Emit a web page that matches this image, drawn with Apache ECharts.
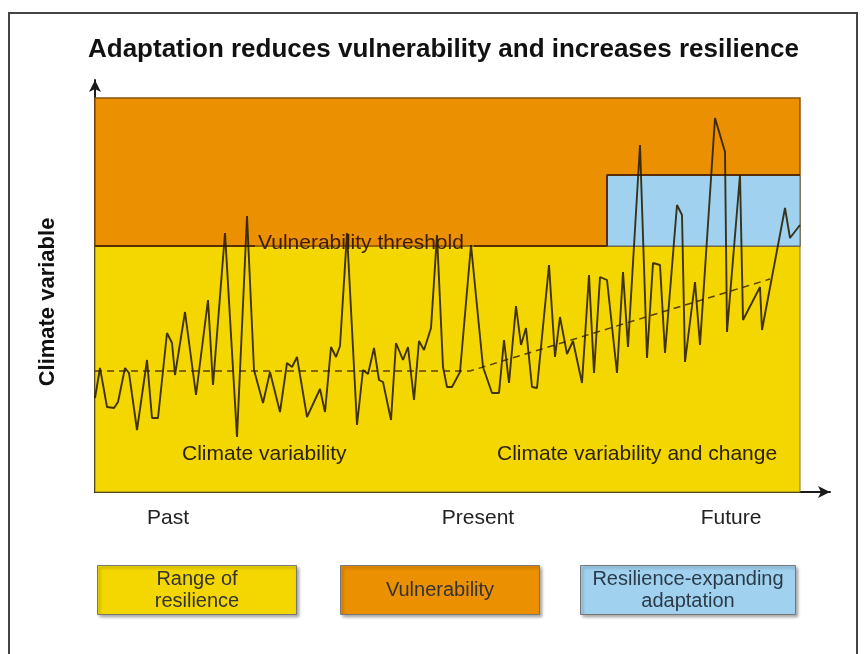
<!DOCTYPE html>
<html>
<head>
<meta charset="utf-8">
<script src="https://cdn.jsdelivr.net/npm/echarts@6/dist/echarts.min.js"></script>
<style>
  html, body { margin: 0; padding: 0; background: #fff; }
  #main { width: 864px; height: 654px; }
</style>
</head>
<body>
<div id="main"></div>
<script>
// climate series (time units along x, climate units up y)
var timeX = [0, 5, 12, 19, 23, 30, 34, 42, 52, 57, 63, 72, 77, 80, 90, 101, 113, 118, 130, 142,
  152, 159, 168, 175, 185, 192, 197, 202, 212, 225, 230, 236, 241, 245, 252, 262, 268, 273, 279, 284,
  288, 296, 301, 308, 313, 319, 324, 329, 336, 342, 348, 352, 357, 365, 376, 388, 397, 404, 409, 414,
  421, 426, 431, 437, 442, 454, 460, 465, 472, 478, 487, 494, 499, 505, 512, 522, 528, 533, 545, 552,
  558, 565, 570, 582, 587, 590, 600, 605, 620, 630, 632, 645, 648, 665, 667, 690, 695, 705];
var climateY = [94, 124, 85, 84, 90, 124, 119, 62, 132, 74, 74, 159, 149, 117, 180, 97, 192, 107, 259, 55,
  276, 122, 89, 120, 80, 129, 125, 135, 75, 103, 80, 145, 135, 146, 259, 67, 122, 118, 144, 112,
  110, 72, 149, 132, 145, 92, 151, 142, 164, 257, 125, 105, 105, 120, 247, 125, 99, 99, 152, 109,
  186, 147, 164, 105, 104, 227, 135, 175, 138, 151, 109, 217, 119, 215, 212, 119, 220, 145, 347, 134,
  229, 227, 139, 287, 277, 130, 210, 147, 374, 340, 160, 317, 172, 205, 162, 284, 254, 267];

// dashed trend
var trendX = [0, 375, 675];
var trendY = [121, 121, 213];

// zones
var plotEnd = 705;
var thresholdY = 246;
var adaptedY = 317;
var vulnTop = 394;
var adaptStart = 512;
var labelGap = [160, 379];

// time tick labels
var timeLabels = ['Past', 'Present', 'Future'];
var timeTicks = [73, 383, 636];

function pairs(xs, ys) {
  return xs.map(function (x, i) { return [x, ys[i]]; });
}

var YELLOW = '#F4D700', ORANGE = '#EB9000', BLUE = '#A0D2EF';
var FONT = 'Liberation Sans';

var myChart = echarts.init(document.getElementById('main'));

var option = {
  backgroundColor: '#fff',
  animation: false,
  title: {
    text: 'Adaptation reduces vulnerability and increases resilience',
    left: 88,
    top: 37,
    padding: 0,
    textStyle: { fontFamily: FONT, fontSize: 26, fontWeight: 'bold', color: '#111' }
  },
  grid: { left: 95, right: 34, top: 80, bottom: 162 },
  xAxis: {
    type: 'value',
    min: 0,
    max: 735,
    splitLine: { show: false },
    axisTick: { show: false },
    axisLine: {
      lineStyle: { color: '#1a1a1a', width: 2 },
      symbol: ['none', 'arrow'],
      symbolSize: [9, 12]
    },
    axisLabel: {
      customValues: timeTicks,
      margin: 16,
      fontFamily: FONT,
      fontSize: 21,
      color: '#222',
      formatter: function (v) {
        var i = timeTicks.indexOf(v);
        return i >= 0 ? timeLabels[i] : '';
      }
    }
  },
  yAxis: {
    type: 'value',
    min: 0,
    max: 412,
    splitLine: { show: false },
    axisTick: { show: false },
    axisLabel: { show: false },
    axisLine: {
      lineStyle: { color: '#1a1a1a', width: 2 },
      symbol: ['none', 'arrow'],
      symbolSize: [9, 12]
    }
  },
  series: [
    {
      name: 'zones',
      type: 'line',
      data: [],
      silent: true,
      markArea: {
        silent: true,
        data: [
          [{ coord: [0, 0], itemStyle: { color: YELLOW, borderColor: '#8a7a20', borderWidth: 1 } }, { coord: [plotEnd, thresholdY] }],
          [{ coord: [0, thresholdY], itemStyle: { color: ORANGE, borderColor: '#8a5410', borderWidth: 1.5 } }, { coord: [plotEnd, vulnTop] }],
          [{ coord: [adaptStart, thresholdY], itemStyle: { color: BLUE, borderColor: '#5a6a70', borderWidth: 1 } }, { coord: [plotEnd, adaptedY] }]
        ]
      }
    },
    {
      name: 'threshold-left',
      type: 'line',
      symbol: 'none',
      silent: true,
      lineStyle: { color: '#5a2e00', width: 2 },
      data: [[0, thresholdY], [labelGap[0], thresholdY]]
    },
    {
      name: 'threshold-right',
      type: 'line',
      symbol: 'none',
      silent: true,
      lineStyle: { color: '#5a2e00', width: 2 },
      data: [[labelGap[1], thresholdY], [adaptStart, thresholdY], [adaptStart, adaptedY], [plotEnd, adaptedY]]
    },
    {
      name: 'trend',
      type: 'line',
      symbol: 'none',
      silent: true,
      lineStyle: { color: '#5a4200', width: 1.5, type: [7, 5] },
      data: pairs(trendX, trendY)
    },
    {
      name: 'climate',
      type: 'line',
      symbol: 'none',
      silent: true,
      lineStyle: { color: 'rgba(40,28,0,0.88)', width: 1.9 },
      data: pairs(timeX, climateY)
    }
  ],
  graphic: [
    { type: 'rect', z: -1, silent: true, shape: { x: 9, y: 13, width: 848, height: 660 },
      style: { fill: 'none', stroke: '#444', lineWidth: 2 } },
    { type: 'text', x: 48, y: 302, rotation: Math.PI / 2, z: 100,
      style: { text: 'Climate variable', font: 'bold 22px "Liberation Sans"', fill: '#111', align: 'center', verticalAlign: 'middle' } },
    { type: 'text', left: 258, top: 233, z: 100,
      style: { text: 'Vulnerability threshold', font: '21px "Liberation Sans"', fill: '#3a1c00' } },
    { type: 'text', left: 182, top: 444, z: 100,
      style: { text: 'Climate variability', font: '21px "Liberation Sans"', fill: '#2a2200' } },
    { type: 'text', left: 497, top: 444, z: 100,
      style: { text: 'Climate variability and change', font: '21px "Liberation Sans"', fill: '#2a2200' } },
    { type: 'group', left: 97, top: 565, children: [
      { type: 'rect', shape: { x: 0, y: 0, width: 199, height: 49 },
        style: { fill: YELLOW, stroke: '#777', lineWidth: 1, shadowBlur: 3, shadowOffsetX: 2, shadowOffsetY: 2, shadowColor: 'rgba(0,0,0,0.35)' } },
      { type: 'text', x: 99.5, y: 24.5,
        style: { text: 'Range of\nresilience', font: '20px "Liberation Sans"', fill: '#333', align: 'center', verticalAlign: 'middle', lineHeight: 22 } }
    ] },
    { type: 'group', left: 340, top: 565, children: [
      { type: 'rect', shape: { x: 0, y: 0, width: 199, height: 49 },
        style: { fill: ORANGE, stroke: '#777', lineWidth: 1, shadowBlur: 3, shadowOffsetX: 2, shadowOffsetY: 2, shadowColor: 'rgba(0,0,0,0.35)' } },
      { type: 'text', x: 99.5, y: 24.5,
        style: { text: 'Vulnerability', font: '20px "Liberation Sans"', fill: '#333', align: 'center', verticalAlign: 'middle' } }
    ] },
    { type: 'group', left: 580, top: 565, children: [
      { type: 'rect', shape: { x: 0, y: 0, width: 215, height: 49 },
        style: { fill: BLUE, stroke: '#777', lineWidth: 1, shadowBlur: 3, shadowOffsetX: 2, shadowOffsetY: 2, shadowColor: 'rgba(0,0,0,0.35)' } },
      { type: 'text', x: 107.5, y: 24.5,
        style: { text: 'Resilience-expanding\nadaptation', font: '20px "Liberation Sans"', fill: '#2b3a48', align: 'center', verticalAlign: 'middle', lineHeight: 22 } }
    ] }
  ]
};

myChart.setOption(option);
</script>
</body>
</html>
